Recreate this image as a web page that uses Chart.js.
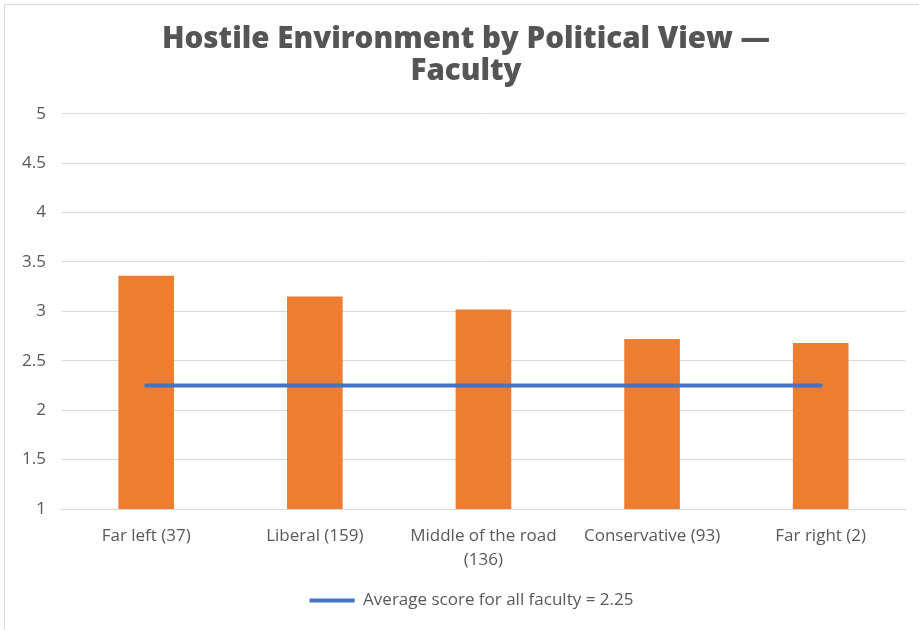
<!DOCTYPE html>
<html>
<head>
<meta charset="utf-8">
<script src="https://cdn.jsdelivr.net/npm/chart.js@4"></script>
<style>
  html, body { margin: 0; padding: 0; background: #fff; }
  #wrap { position: absolute; left: 4px; top: 4px; width: 930px; height: 640px; border: 1px solid #d9d9d9; box-sizing: border-box; }
  #c { position: absolute; left: 0; top: 0; }
</style>
</head>
<body>
<div id="wrap"></div>
<canvas id="c" width="919" height="630"></canvas>
<script>
const categories = ["Far left (37)", "Liberal (159)", ["Middle of the road", "(136)"], "Conservative (93)", "Far right (2)"];
const barValues = [3.36, 3.15, 3.02, 2.72, 2.68];
const averageValue = 2.25;
const averageLabel = "Average score for all faculty = 2.25";
const titleLines = ["Hostile Environment by Political View \u2014", "Faculty"];

const avgData = categories.map(() => averageValue);
const tickFont = { family: "'Open Sans', sans-serif", size: 17 };

const blockShift = {
  id: 'blockShift',
  afterLayout(chart) {
    if (chart.titleBlock) { chart.titleBlock.left += 21; }
    if (chart.legend) { chart.legend.left += 32; }
  }
};

new Chart(document.getElementById('c'), {
  data: {
    labels: categories,
    datasets: [
      {
        type: 'line',
        label: averageLabel,
        data: avgData,
        borderColor: '#4472c4',
        backgroundColor: '#4472c4',
        borderWidth: 4,
        pointRadius: 0,
        borderCapStyle: 'round',
        order: 0
      },
      {
        type: 'bar',
        label: 'Score',
        data: barValues,
        backgroundColor: '#ed7d31',
        barPercentage: 0.33,
        categoryPercentage: 1,
        order: 1
      }
    ]
  },
  plugins: [blockShift],
  options: {
    responsive: false,
    animation: false,
    layout: { padding: { left: 6, right: 14, top: 24, bottom: 11 } },
    plugins: {
      title: {
        display: true,
        text: titleLines,
        color: '#555555',
        font: { family: "'Open Sans', sans-serif", size: 29.5, weight: 800, lineHeight: 1.08 },
        padding: { top: 0, bottom: 26 }
      },
      legend: {
        position: 'bottom',
        labels: {
          filter: (item) => item.text === averageLabel,
          color: '#595959',
          font: tickFont,
          usePointStyle: true,
          pointStyle: 'line',
          pointStyleWidth: 45,
          boxWidth: 45,
          padding: 5
        }
      },
      tooltip: { enabled: false }
    },
    scales: {
      x: {
        grid: { display: false, drawTicks: false },
        border: { color: '#d9d9d9' },
        ticks: { color: '#595959', font: { family: tickFont.family, size: 17, lineHeight: 1.41 }, maxRotation: 0, autoSkip: false, padding: 15 }
      },
      y: {
        min: 1, max: 5,
        grid: { color: '#d9d9d9', drawTicks: false },
        border: { display: false },
        ticks: { stepSize: 0.5, color: '#595959', font: tickFont, padding: 16, callback: (v) => String(v) }
      }
    }
  }
});
</script>
</body>
</html>
